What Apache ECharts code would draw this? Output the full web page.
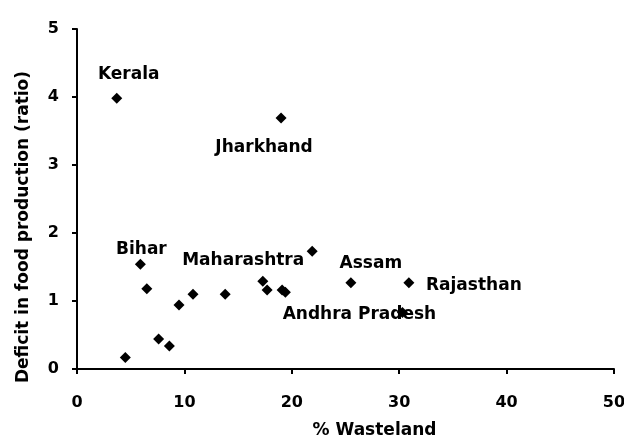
<!DOCTYPE html>
<html>
<head>
<meta charset="utf-8">
<script src="https://cdn.jsdelivr.net/npm/echarts@6/dist/echarts.min.js"></script>
<style>
html,body{margin:0;padding:0;background:#fff;}
#chart{width:624px;height:439px;}
</style>
</head>
<body>
<div id="chart"></div>
<script>
// ---- data ----
const names = ['Kerala', 'Jharkhand', 'Bihar', '', '', '', '', '', '', '', '', 'Maharashtra', '', '', '', 'Assam', 'Rajasthan', 'Andhra Pradesh'];
const wasteland = [3.7, 19.0, 5.9, 6.5, 9.5, 10.8, 13.8, 17.3, 17.7, 19.1, 19.4, 21.9, 4.5, 7.6, 8.6, 25.5, 30.9, 30.3];
const deficit = [3.98, 3.69, 1.54, 1.18, 0.94, 1.10, 1.10, 1.29, 1.16, 1.16, 1.13, 1.73, 0.17, 0.44, 0.34, 1.27, 1.27, 0.83];
const xTicks = [0, 10, 20, 30, 40, 50];
const yTicks = [0, 1, 2, 3, 4, 5];
const xTitle = '% Wasteland';
const yTitle = 'Deficit in food production (ratio)';

// ---- layout (label placement, pixels) ----
const labelOffsets = {
  'Kerala': [12, -24],
  'Jharkhand': [-17, 29],
  'Bihar': [1, -15],
  'Maharashtra': [-69, 9],
  'Assam': [20, -19],
  'Rajasthan': [65, 3],
  'Andhra Pradesh': [-43, 2]
};

const FONT = 'DejaVu Sans';
const INK = '#000';
const chart = echarts.init(document.getElementById('chart'), null, {renderer: 'canvas'});

const points = wasteland.map((x, i) => {
  const nm = names[i];
  const item = {value: [x, deficit[i]], name: nm};
  if (nm) {
    item.label = {
      show: true,
      position: 'inside',
      offset: labelOffsets[nm] || [0, 0],
      formatter: nm
    };
  }
  return item;
});

const axisLabelStyle = {color: INK, fontFamily: FONT, fontWeight: 'bold', fontSize: 16};

chart.setOption({
  backgroundColor: '#fff',
  animation: false,
  grid: {left: 77, right: 10, top: 29, bottom: 70, containLabel: false, outerBoundsMode: 'none'},
  xAxis: {
    type: 'value',
    min: xTicks[0], max: xTicks[xTicks.length - 1], interval: xTicks[1] - xTicks[0],
    splitLine: {show: false},
    axisLine: {show: true, onZero: false, lineStyle: {color: INK, width: 2}},
    axisTick: {show: true, length: 5, lineStyle: {color: INK, width: 2}},
    axisLabel: Object.assign({margin: 26}, axisLabelStyle),
    name: xTitle,
    nameLocation: 'middle',
    nameGap: 53,
    nameTextStyle: {color: INK, fontFamily: FONT, fontWeight: 'bold', fontSize: 17, padding: [0, 0, 0, 58]}
  },
  yAxis: {
    type: 'value',
    min: yTicks[0], max: yTicks[yTicks.length - 1], interval: yTicks[1] - yTicks[0],
    splitLine: {show: false},
    axisLine: {show: true, onZero: false, lineStyle: {color: INK, width: 2}},
    axisTick: {show: true, length: 5, lineStyle: {color: INK, width: 2}},
    axisLabel: Object.assign({margin: 18}, axisLabelStyle),
    name: yTitle,
    nameLocation: 'middle',
    nameRotate: 90,
    nameGap: 45,
    nameTextStyle: {color: INK, fontFamily: FONT, fontWeight: 'bold', fontSize: 17, padding: [0, 56, 0, 0]}
  },
  series: [{
    type: 'scatter',
    symbol: 'diamond',
    symbolSize: 11,
    itemStyle: {color: INK, opacity: 1},
    label: {color: INK, opacity: 1, fontFamily: FONT, fontWeight: 'bold', fontSize: 17},
    data: points
  }]
});
</script>
</body>
</html>
